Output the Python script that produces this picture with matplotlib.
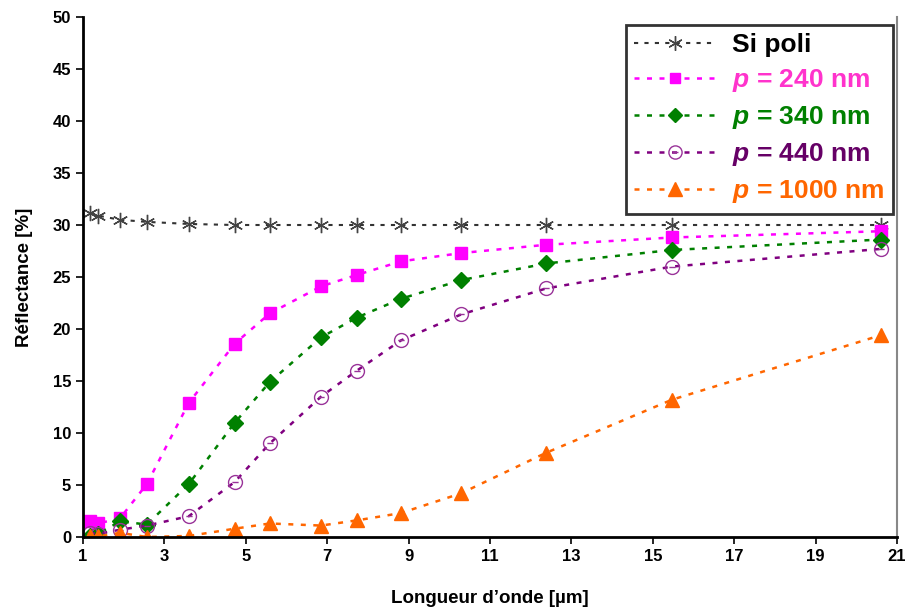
import numpy as np
import matplotlib
matplotlib.use("Agg")
import matplotlib.pyplot as plt
import matplotlib.path as mpath

plt.rcParams['font.family'] = ['Liberation Sans', 'DejaVu Sans']
plt.rcParams['mathtext.fontset'] = 'custom'
plt.rcParams['mathtext.it'] = 'Liberation Sans:italic:bold'
plt.rcParams['mathtext.rm'] = 'Liberation Sans:bold'

# wavelength (um), shared by all series
wl = [1.17, 1.37, 1.91, 2.57, 3.60, 4.73, 5.59, 6.85, 7.73, 8.81, 10.29, 12.38, 15.47, 20.6]

si_poli = [31.2, 30.9, 30.5, 30.3, 30.1, 30.0, 30.0, 30.0, 30.0, 30.0, 30.0, 30.0, 30.0, 30.0]
p240 = [1.5, 1.3, 1.8, 5.1, 12.9, 18.6, 21.5, 24.1, 25.2, 26.5, 27.3, 28.1, 28.8, 29.4]
p340 = [0.1, 0.3, 1.5, 1.2, 5.1, 11.0, 14.9, 19.2, 21.1, 22.9, 24.7, 26.3, 27.6, 28.6]
p440 = [0.4, 0.3, 0.7, 1.1, 2.0, 5.3, 9.0, 13.5, 16.0, 18.9, 21.4, 23.9, 26.0, 27.7]
p1000 = [0.05, 0.05, 0.4, 0.0, 0.1, 0.8, 1.3, 1.1, 1.6, 2.3, 4.2, 8.1, 13.2, 19.4]

labels = ['Si poli', '$p$ = 240 nm', '$p$ = 340 nm', '$p$ = 440 nm', '$p$ = 1000 nm']
label_colors = ['black', '#ff33cc', '#008000', '#660066', '#ff6600']

# circle with a dash in the middle
circ = mpath.Path.make_compound_path(mpath.Path.unit_circle(),
                                     mpath.Path([[-0.45, 0.0], [0.45, 0.0]]))

fig = plt.figure(figsize=(9.05, 6.07), dpi=100)
ax = fig.add_axes([83 / 905, 1 - 537 / 607, 814 / 905, 520 / 607])

ls = (0, (2, 3))
ax.plot(wl, si_poli, linestyle=ls, color='#333333', lw=1.5, marker=(6, 2, 0),
        markersize=11, markeredgecolor='#444444', markeredgewidth=1.0, label=labels[0])
ax.plot(wl, p240, linestyle=ls, color='#ff00ff', lw=1.8, marker='s', markersize=8,
        markeredgecolor='#ff00ff', label=labels[1])
ax.plot(wl, p340, linestyle=ls, color='#008000', lw=1.8, marker='D', markersize=8,
        markeredgecolor='#008000', label=labels[2])
ax.plot(wl, p440, linestyle=ls, color='#800080', lw=1.8, marker=circ, markersize=10,
        markerfacecolor='none', markeredgecolor='#993399', markeredgewidth=1.0, label=labels[3])
ax.plot(wl, p1000, linestyle=ls, color='#ff6600', lw=1.8, marker='^', markersize=10,
        markeredgecolor='#ff6600', label=labels[4])

ax.set_xlim(1, 21)
ax.set_ylim(0, 50)
ax.set_xticks(np.arange(1, 22, 2))
ax.set_yticks(np.arange(0, 51, 5))
ax.tick_params(labelsize=12, direction='out', length=5, width=1.2, colors='black')
for lab in ax.get_xticklabels() + ax.get_yticklabels():
    lab.set_fontweight('bold')

ax.spines['top'].set_visible(False)
ax.spines['left'].set_linewidth(2)
ax.spines['bottom'].set_linewidth(2)
ax.spines['right'].set_color('#888888')
ax.spines['right'].set_linewidth(1.5)

ax.set_xlabel('Longueur d\u2019onde [\u00b5m]', fontsize=13.5, fontweight='bold', labelpad=19)
ax.set_ylabel('R\u00e9flectance [%]', fontsize=13.5, fontweight='bold', labelpad=14)

leg = ax.legend(loc='upper right', bbox_to_anchor=(0.995, 0.985),
                prop={'weight': 'bold', 'size': 19}, labelcolor=label_colors,
                frameon=True, fancybox=False, edgecolor='black', handlelength=3.1,
                handletextpad=0.6, labelspacing=0.38, borderpad=0.32, borderaxespad=0.0,
                markerscale=0.95)
leg.get_frame().set_linewidth(2)

fig.savefig('out.png', dpi=100)
